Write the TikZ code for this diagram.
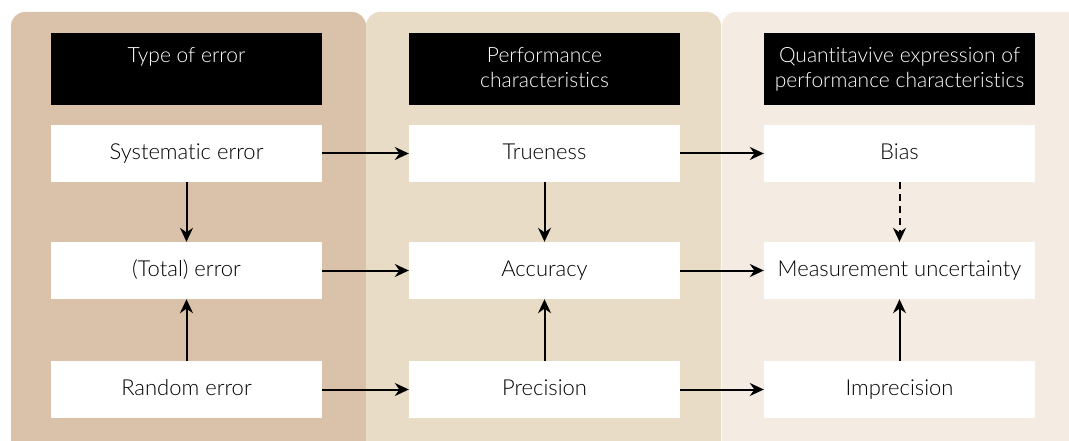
\documentclass[tikz,border=0pt]{standalone}
\usepackage{fontspec}
\setmainfont{Lato}[UprightFont=* Light,Ligatures={NoCommon}]
\usetikzlibrary{arrows.meta}
\definecolor{panelA}{HTML}{D9C1AA}
\definecolor{panelB}{HTML}{E8DCC7}
\definecolor{panelC}{HTML}{F4ECE2}
\begin{document}
\begin{tikzpicture}[x=1pt,y=-1pt,
  panel/.style={rounded corners=14pt},
  head/.style={fill=black,minimum width=271pt,minimum height=72pt,anchor=north,inner sep=0pt},
  headtext/.style={text=white,align=center,anchor=north,font=\fontsize{21}{25}\selectfont},
  box/.style={fill=white,minimum width=271pt,minimum height=57pt,inner sep=0pt,
    text height=16pt,text depth=4pt,font=\fontsize{22}{24}\selectfont},
  arr/.style={line width=2pt,-{Stealth[length=14pt,width=13pt]}}]
\useasboundingbox (0,0) rectangle (1069,441);
% column panels
\begin{scope}
\clip (0,0) rectangle (1069,441);
\fill[panelA,panel] (11,12) rectangle (366,460);
\fill[panelB,panel] (366,12) rectangle (721,460);
\fill[panelC,panel] (722,12) rectangle (1090,460);
\end{scope}
% headers
\node[head] (h1) at (186.5,33) {};
\node[head] (h2) at (544.5,33) {};
\node[head] (h3) at (899.5,33) {};
\node[headtext] at (186.5,44) {Type of error};
\node[headtext] at (544.5,44) {Performance\\characteristics};
\node[headtext] at (899.5,44) {Quantitavive expression of\\performance characteristics};
% boxes
\node[box] (sys) at (186.5,153.5) {Systematic error};
\node[box] (tot) at (186.5,270.5) {(Total) error};
\node[box] (ran) at (186.5,389.5) {Random error};
\node[box] (tru) at (544.5,153.5) {Trueness};
\node[box] (acc) at (544.5,270.5) {Accuracy};
\node[box] (pre) at (544.5,389.5) {Precision};
\node[box] (bia) at (899.5,153.5) {Bias};
\node[box] (mu)  at (899.5,270.5) {Measurement uncertainty};
\node[box] (imp) at (899.5,389.5) {Imprecision};
% horizontal arrows
\draw[arr] (sys) -- (tru);
\draw[arr] (tot) -- (acc);
\draw[arr] (ran) -- (pre);
\draw[arr] (tru) -- (bia);
\draw[arr] (acc) -- (mu);
\draw[arr] (pre) -- (imp);
% vertical arrows
\draw[arr] (sys) -- (tot);
\draw[arr] (ran) -- (tot);
\draw[arr] (tru) -- (acc);
\draw[arr] (pre) -- (acc);
\draw[arr,dash pattern=on 7pt off 5pt] (bia) -- (mu);
\draw[arr] (imp) -- (mu);
\end{tikzpicture}
\end{document}
